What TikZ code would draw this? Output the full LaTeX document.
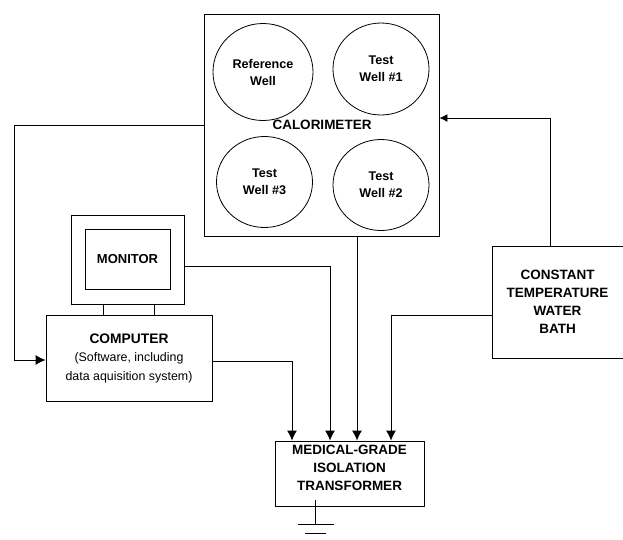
\documentclass[tikz,border=0pt]{standalone}
\usepackage{fontspec}
\setmainfont{Liberation Sans}
\usetikzlibrary{arrows.meta,shapes.geometric}

\tikzset{
  unitbox/.style={draw,line width=0.9pt,inner sep=0pt,align=center},
  well/.style={draw,ellipse,line width=0.8pt,inner sep=0pt,align=center,font=\fontsize{12.6}{17}\selectfont\bfseries},
  capsbold/.style={font=\fontsize{13.5}{18}\selectfont\bfseries},
  wire/.style={line width=0.9pt},
  wirearrow/.style={line width=0.9pt,-{Latex[length=10pt,width=10pt]}}
}

\begin{document}
\begin{tikzpicture}[x=1pt,y=-1pt]
  \useasboundingbox (0,0) rectangle (623,539);
  % Calorimeter and its wells
  \node[unitbox,minimum width=235pt,minimum height=222pt] (calorimeter) at (321.5,125) {};
  \node[well,minimum width=100pt,minimum height=97pt] (refwell) at (263,72) {Reference\\Well};
  \node[well,minimum width=96pt,minimum height=92pt] (well1) at (381,69) {Test\\Well \#1};
  \node[well,minimum width=96pt,minimum height=91pt] (well3) at (264.5,182) {Test\\Well \#3};
  \node[well,minimum width=96pt,minimum height=91pt] (well2) at (381,185) {Test\\Well \#2};
  \node[capsbold] (calorimeterlabel) at (322,125) {CALORIMETER};
  % Monitor and computer
  \node[unitbox,minimum width=113pt,minimum height=89pt] (monitor) at (127.5,259.5) {};
  \node[unitbox,minimum width=85pt,minimum height=60pt,font=\fontsize{13}{16}\selectfont\bfseries] (screen) at (127.5,259) {MONITOR};
  \node[unitbox,minimum width=166pt,minimum height=86pt,font=\fontsize{12.4}{18.5}\selectfont] (computer) at (129,358)
    {{\fontsize{13.8}{18.5}\selectfont\bfseries COMPUTER}\\(Software, including\\data aquisition system)};
  % Water bath and transformer
  \node[unitbox,minimum width=131pt,minimum height=112pt,capsbold] (waterbath) at (557.5,302)
    {CONSTANT\\TEMPERATURE\\WATER\\BATH};
  \node[unitbox,minimum width=149pt,minimum height=65pt] (transformer) at (349.5,473.5) {};
  \node[capsbold] [align=center] (transformerlabel) at (349.5,468) {MEDICAL-GRADE\\ISOLATION\\TRANSFORMER};
  % Bend points and ground
  \coordinate (leftbend) at (14,125);
  \coordinate (groundtop) at (315,500);
  \coordinate (groundmid) at (315,524);
  \node[minimum width=36pt,inner sep=0pt] (groundbar) at (316,524) {};
  \node[minimum width=21pt,inner sep=0pt] (groundtick) at (315.5,533) {};
  % Stands between monitor and computer
  \foreach \x in {-24.5,26.5} {
    \draw[wire] ([xshift=\x pt]monitor.south) -- ([xshift=\x pt,yshift=-11pt]monitor.south);
  }
  % Connections
  \draw[wirearrow] (calorimeter.west) -- (leftbend) |- ([yshift=-2pt]computer.west);
  \draw[wirearrow] ([yshift=-6.5pt]monitor.east) -| ([xshift=-19.5pt]transformer.north);
  \draw[wirearrow] ([yshift=-3pt]computer.east) -| ([xshift=-57.5pt]transformer.north);
  \draw[wirearrow] ([xshift=35.5pt]calorimeter.south) -- ([xshift=7.5pt]transformer.north);
  \draw[wirearrow] ([yshift=-13pt]waterbath.west) -| ([xshift=41.5pt]transformer.north);
  \draw[line width=0.9pt,-{Latex[length=8pt,width=8pt]}] ([xshift=-7.5pt]waterbath.north) |- ([yshift=7pt]calorimeter.east);
  % Ground symbol
  \draw[wire] (groundtop) -- (groundmid);
  \draw[wire] (groundbar.west) -- (groundbar.east);
  \draw[line width=0.6pt] (groundtick.west) -- (groundtick.east);
\end{tikzpicture}
\end{document}
